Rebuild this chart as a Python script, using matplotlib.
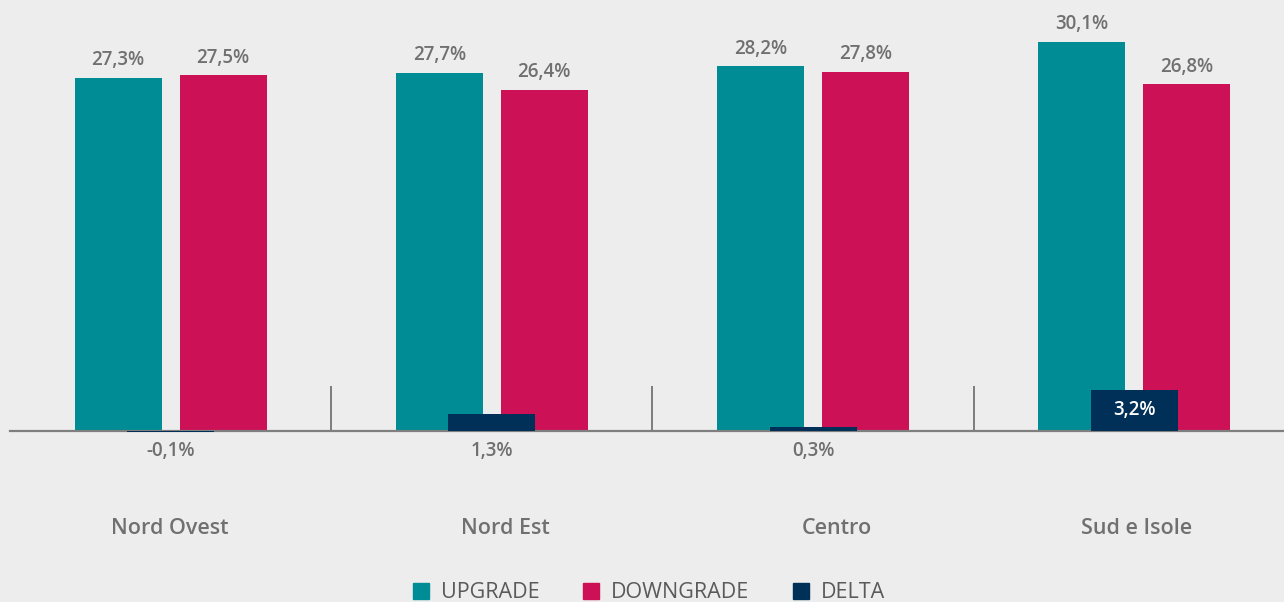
import matplotlib.pyplot as plt
from matplotlib.patches import Patch

# data
categories = ['Nord Ovest', 'Nord Est', 'Centro', 'Sud e Isole']
upgrade = [27.3, 27.7, 28.2, 30.1]
downgrade = [27.5, 26.4, 27.8, 26.8]
delta = [-0.1, 1.3, 0.3, 3.2]

c_up = '#008C95'
c_down = '#CC1157'
c_delta = '#003057'
bg = '#ECEDEC'
txt = '#707070'

plt.rcParams['font.family'] = ['Open Sans', 'DejaVu Sans']

W, H, dpi = 1284, 602, 100
px = 72 / dpi  # points per pixel
fig = plt.figure(figsize=(W / dpi, H / dpi), dpi=dpi, facecolor=bg)

# axes: x from px 10 to 1284, baseline at px 431 from top, 12.93 px per %
x0, x1 = 10, 1284
y_base = 431
ppu = 12.93
ax = fig.add_axes([x0 / W, (H - y_base) / H, (x1 - x0) / W, y_base / H])
ax.set_facecolor(bg)

# group spacing ~321.3 px, first centre at px 170.5
sp = 321.3
c0 = 170.5
ax.set_xlim((x0 - c0) / sp, (x1 - c0) / sp)
ax.set_ylim(0, y_base / ppu)

bw = 87 / sp
off = 52.5 / sp
xs = list(range(len(categories)))

ax.bar([x - off for x in xs], upgrade, bw, color=c_up, zorder=2)
ax.bar([x + off for x in xs], downgrade, bw, color=c_down, zorder=2)
ax.bar(xs, delta, bw, color=c_delta, zorder=3, clip_on=False)

lab = dict(ha='center', color=txt, fontsize=13.5, fontweight='semibold')
for x, u, d in zip(xs, upgrade, downgrade):
    ax.annotate(f'{u:.1f}%'.replace('.', ','), (x - off, u), xytext=(0, 5.5),
                textcoords='offset points', va='bottom', **lab)
    ax.annotate(f'{d:.1f}%'.replace('.', ','), (x + off, d), xytext=(0, 5.5),
                textcoords='offset points', va='bottom', **lab)

for x, d in zip(xs, delta):
    s = f'{d:.1f}%'.replace('.', ',')
    if d > 2:
        ax.text(x, d / 2, s, ha='center', va='center', color='white',
                fontsize=13.5, fontweight='semibold', zorder=4)
    else:
        ax.annotate(s, (x, 0), xytext=(0, -20 * px), textcoords='offset points',
                    va='center', annotation_clip=False, **lab)

# category names below the axis (not exactly centred in the original)
name_shift = [-1, 14, 23.5, 2]
for x, c, sh in zip(xs, categories, name_shift):
    ax.annotate(c, (x, 0), xytext=(sh * px, -97 * px), textcoords='offset points',
                va='center', ha='center', color=txt, fontsize=15.5,
                fontweight='semibold', annotation_clip=False)

# baseline and separators
for s in ['top', 'right', 'left']:
    ax.spines[s].set_visible(False)
ax.spines['bottom'].set_color('#7F7F7F')
ax.spines['bottom'].set_linewidth(2.2 * px)
ax.set_yticks([])
ax.set_xticks([0.5, 1.5, 2.5])
ax.set_xticklabels([])
ax.tick_params(axis='x', direction='in', length=45 * px,
               width=2 * px, color='#7F7F7F')

handles = [Patch(color=c_up, label='UPGRADE'),
           Patch(color=c_down, label='DOWNGRADE'),
           Patch(color=c_delta, label='DELTA')]
leg = fig.legend(handles=handles, loc='center',
                 bbox_to_anchor=(0.5 + 7 / W, 9 / H),
                 ncol=3, frameon=False, fontsize=15.5, handlelength=0.72,
                 handleheight=0.72, handletextpad=0.55, columnspacing=2.05)
for t in leg.get_texts():
    t.set_color('#5A5A5A')

fig.savefig('out.png', dpi=dpi, facecolor=bg)
